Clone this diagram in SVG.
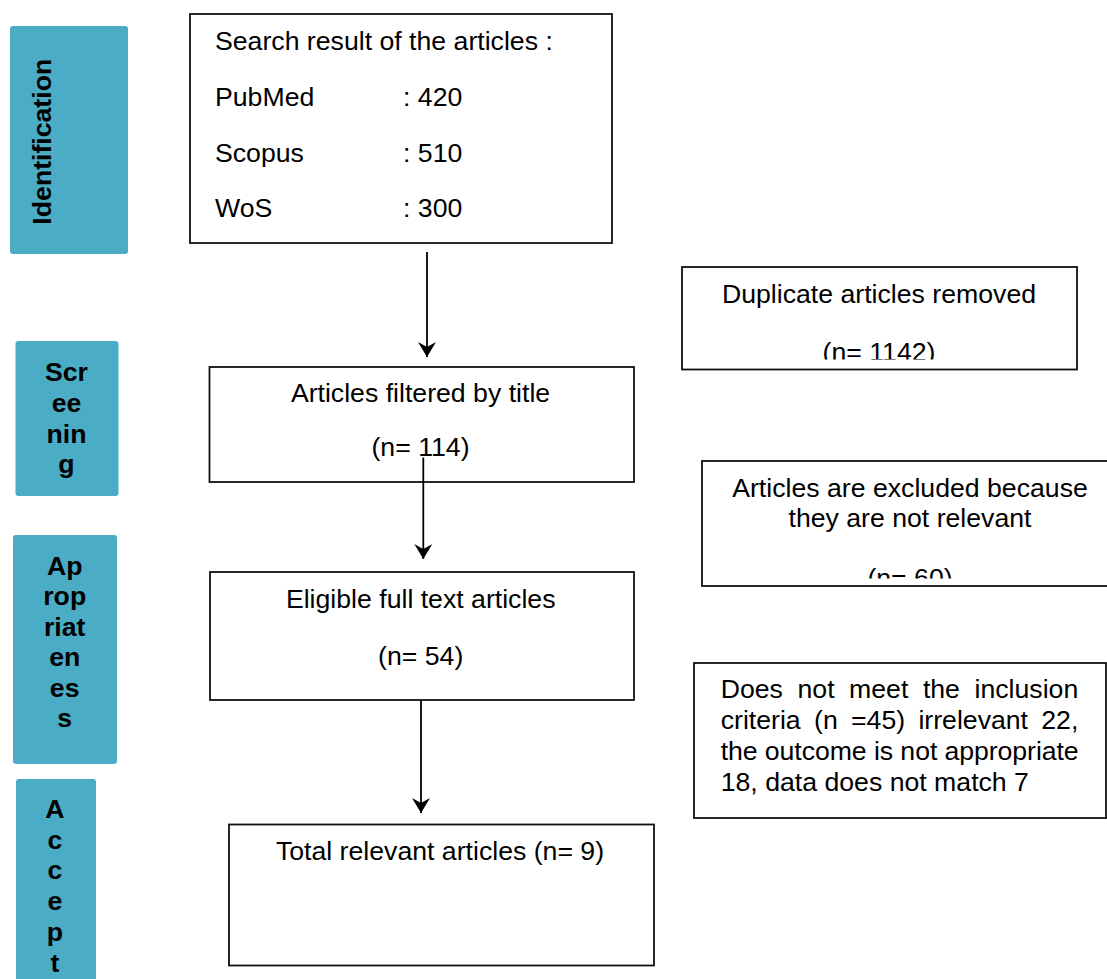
<svg xmlns="http://www.w3.org/2000/svg" width="1107" height="979" viewBox="0 0 1107 979">
<style>
text{font-family:"Liberation Sans",Arial,sans-serif;font-size:26.67px;fill:#000}
.box{fill:#fff;stroke:#111;stroke-width:1.8}
.side{fill:#4BACC6;stroke:none}
.lab{font-weight:bold;text-anchor:middle}
.c{text-anchor:middle}
.conn{stroke:#000;stroke-width:1.8;fill:none}
</style>
<defs>
<marker id="ah" markerUnits="userSpaceOnUse" markerWidth="16" markerHeight="18" viewBox="0 0 16 18" refX="15" refY="9" orient="auto">
<path d="M0,0 L15,9 L0,18 L5,9 Z" fill="#000"/>
</marker>
<clipPath id="clipDup"><rect x="682" y="267" width="394" height="92.5"/></clipPath>
<clipPath id="clipExc"><rect x="702" y="461" width="405" height="117.5"/></clipPath>
</defs>
<rect width="1107" height="979" fill="#fff"/>

<g id="stage-identification">
<rect class="side" x="10" y="26" width="118" height="228" rx="3"/>
<text class="lab" transform="translate(51,141.7) rotate(-90)">Identification</text>
</g>
<g id="stage-screening">
<rect class="side" x="15.5" y="341" width="103" height="155" rx="3"/>
<text class="lab" x="66.5" y="381">Scr</text>
<text class="lab" x="66.5" y="412">ee</text>
<text class="lab" x="66.5" y="443">nin</text>
<text class="lab" x="66.5" y="473">g</text>
</g>
<g id="stage-appropriateness">
<rect class="side" x="13" y="535" width="104" height="229" rx="3"/>
<text class="lab" x="64.7" y="575">Ap</text>
<text class="lab" x="64.7" y="605.4">rop</text>
<text class="lab" x="64.7" y="635.8">riat</text>
<text class="lab" x="64.7" y="666.2">en</text>
<text class="lab" x="64.7" y="696.6">es</text>
<text class="lab" x="64.7" y="727">s</text>
</g>
<g id="stage-accept">
<rect class="side" x="16" y="779" width="80" height="215" rx="3"/>
<text class="lab" x="55" y="818">A</text>
<text class="lab" x="55" y="848.5">c</text>
<text class="lab" x="55" y="879">c</text>
<text class="lab" x="55" y="910">e</text>
<text class="lab" x="55" y="940.5">p</text>
<text class="lab" x="55" y="971.5">t</text>
</g>

<g id="node-search">
<rect class="box" x="190" y="14" width="422" height="229"/>
<text x="215" y="50">Search result of the articles :</text>
<text x="215" y="106">PubMed</text><text x="403" y="106">: 420</text>
<text x="215" y="162">Scopus</text><text x="403" y="162">: 510</text>
<text x="215" y="217">WoS</text><text x="403" y="217">: 300</text>
</g>

<g id="node-title">
<rect class="box" x="209.5" y="367" width="424.5" height="115"/>
<text class="c" x="420.5" y="401.7">Articles filtered by title</text>
<text class="c" x="420.5" y="456">(n= 114)</text>
</g>

<g id="node-eligible">
<rect class="box" x="210" y="572" width="424" height="128"/>
<text class="c" x="420.7" y="608">Eligible full text articles</text>
<text class="c" x="420.7" y="665">(n= 54)</text>
</g>

<g id="node-total">
<rect class="box" x="229" y="824.5" width="425" height="141"/>
<text class="c" x="440" y="860">Total relevant articles (n= 9)</text>
</g>

<g id="node-duplicate">
<rect class="box" x="682" y="267" width="395" height="102.5"/>
<text class="c" x="879" y="302.7">Duplicate articles removed</text>
<text class="c" x="879" y="360.5" clip-path="url(#clipDup)">(n= 1142)</text>
</g>

<g id="node-excluded">
<rect class="box" x="702" y="461" width="420" height="125"/>
<text class="c" x="910" y="496.7">Articles are excluded because</text>
<text class="c" x="910" y="526.7">they are not relevant</text>
<text class="c" x="910" y="586.5" clip-path="url(#clipExc)">(n= 60)</text>
</g>

<g id="node-criteria">
<rect class="box" x="694" y="663" width="412" height="155"/>
<text y="697.7"><tspan x="720.7">Does</tspan><tspan x="797.5">not</tspan><tspan x="849.1">meet</tspan><tspan x="922.9">the</tspan><tspan x="974.5">inclusion</tspan></text>
<text y="729"><tspan x="720.7">criteria</tspan><tspan x="814">(n</tspan><tspan x="851">=45)</tspan><tspan x="918.4">irrelevant</tspan><tspan x="1041.3">22,</tspan></text>
<text x="720.7" y="760" textLength="358" lengthAdjust="spacing">the outcome  is not appropriate</text>
<text x="720.7" y="791">18, data does not match 7</text>
</g>

<g id="connectors">
<line class="conn" x1="427" y1="252" x2="427" y2="357" marker-end="url(#ah)"/>
<line class="conn" x1="423.3" y1="457.5" x2="423.3" y2="559" marker-end="url(#ah)"/>
<line class="conn" x1="421" y1="700" x2="421" y2="813" marker-end="url(#ah)"/>
</g>
</svg>
